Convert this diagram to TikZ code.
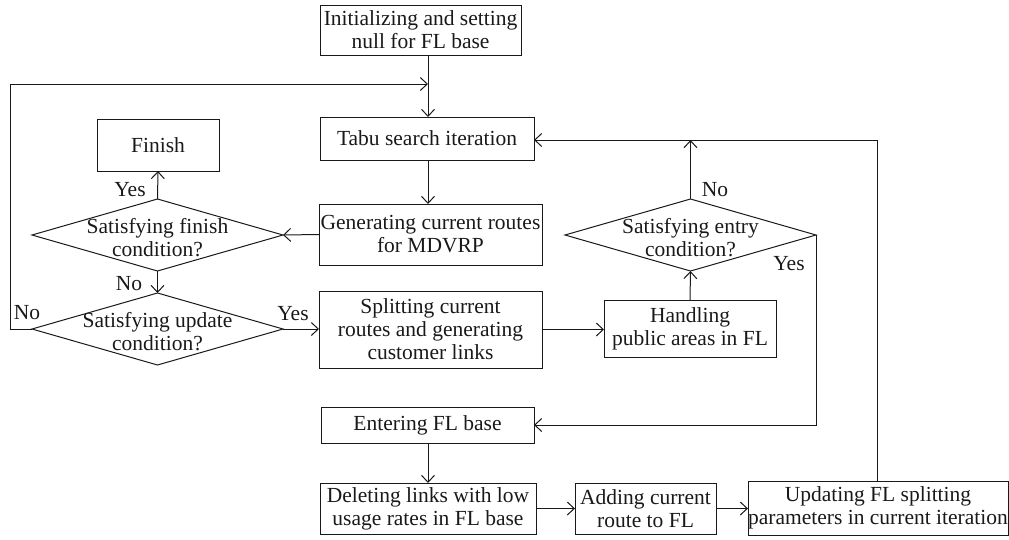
\documentclass[tikz,border=0pt]{standalone}
\usepackage{fontspec}
\setmainfont{Liberation Serif}
\usetikzlibrary{arrows.meta,shapes.geometric}
\begin{document}
\begin{tikzpicture}[x=1pt,y=-1pt,
  line width=1pt, color=black!90,
  box/.style={draw, rectangle, inner sep=0pt, outer sep=0pt, align=center, font=\fontsize{21.5}{23}\selectfont},
  dia/.style={draw, diamond, inner sep=0pt, outer sep=0pt, minimum width=251pt, minimum height=72pt},
  txt/.style={inner sep=0pt, align=center, font=\fontsize{21.5}{23}\selectfont},
  arr/.style={-{Straight Barb[length=7pt,width=13pt]}},
]
\useasboundingbox (0,0) rectangle (1009,539);

\node[box, minimum width=201pt, minimum height=50pt] (init) at (420.5,30) {Initializing and setting\\null for FL base};
\node[box, minimum width=214pt, minimum height=43pt] (tabu) at (427,138.5) {Tabu search iteration};
\node[box, minimum width=122pt, minimum height=52pt] (finish) at (158,145) {Finish};
\node[box, minimum width=223pt, minimum height=61pt] (gen) at (430.5,234.5) {Generating current routes\\for MDVRP};
\node[dia] (d1) at (157.5,235) {};
\node[txt] (d1t) at (157.5,238) {Satisfying finish\\condition?};
\node[dia] (d2) at (157.5,329) {};
\node[txt] (d2t) at (157.5,332) {Satisfying update\\condition?};
\node[box, minimum width=223pt, minimum height=77pt] (split) at (430.5,329.5) {Splitting current\\routes and generating\\customer links};
\node[box, minimum width=172pt, minimum height=57pt] (hand) at (690,328.5) {Handling\\public areas in FL};
\node[dia] (d3) at (690.5,235) {};
\node[txt] (d3t) at (690.5,238) {Satisfying entry\\condition?};
\node[box, minimum width=213pt, minimum height=36pt] (enter) at (427.5,425) {Entering FL base};
\node[box, minimum width=216pt, minimum height=51pt] (del) at (428,508.5) {Deleting links with low\\usage rates in FL base};
\node[box, minimum width=141pt, minimum height=51pt] (add) at (645.5,508.5) {Adding current\\route to FL};
\node[box, minimum width=260pt, minimum height=54pt] (upd) at (878,508) {Updating FL splitting\\parameters in current iteration};

\coordinate (cx) at (428,0);
\coordinate (loopL) at (10,0);
\coordinate (topY) at (0,84);
\coordinate (rY) at (0,140);
\coordinate (updX) at (877,0);

\draw[arr] (init.south -| cx) -- (tabu.north -| cx);
\draw[arr] (tabu.south -| cx) -- (gen.north -| cx);
\draw[arr] (gen.west) -- (d1.east);
\draw[arr] (d1.north) -- (finish.south);
\draw[arr] (d1.south) -- (d2.north);
\draw[arr] (d2.west) -- (d2.west -| loopL) -- (topY -| loopL) -- (topY -| cx);
\draw[arr] (d2.east) -- (d2.east -| split.west);
\draw[arr] (split.east) -- (hand.west |- split.east);
\draw[arr] (hand.north) -- (d3.south);
\draw[arr] (d3.north) -- (d3.north |- rY);
\draw[arr] (upd.north -| updX) -- (rY -| updX) -- (tabu.east |- rY);
\draw[arr] (d3.east) -- (d3.east |- enter.east) -- (enter.east);
\draw[arr] (enter.south -| cx) -- (del.north -| cx);
\draw[arr] (del.east) -- (add.west);
\draw[arr] (add.east) -- (upd.west |- add.east);

\node[txt] (l1) at (130,190) {Yes};
\node[txt] (l2) at (129,284) {No};
\node[txt] (l3) at (27,313) {No};
\node[txt] (l4) at (293,314) {Yes};
\node[txt] (l5) at (715,190) {No};
\node[txt] (l6) at (789,264) {Yes};
\end{tikzpicture}
\end{document}
